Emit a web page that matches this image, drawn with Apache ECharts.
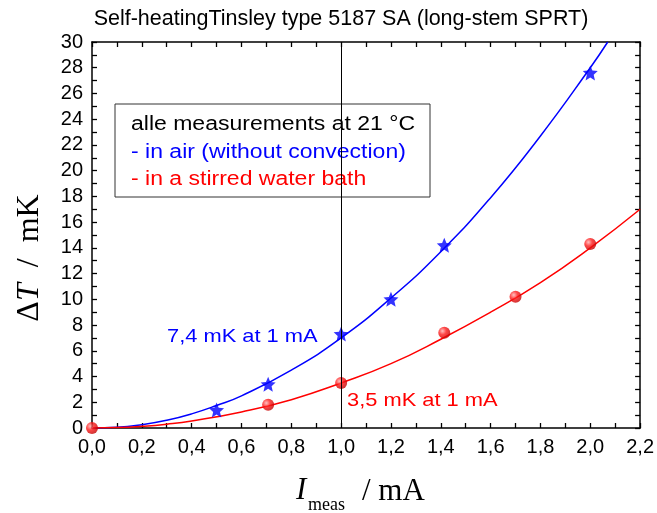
<!DOCTYPE html>
<html>
<head>
<meta charset="utf-8">
<script src="https://cdn.jsdelivr.net/npm/echarts@6/dist/echarts.min.js"></script>
<style>
  html, body { margin: 0; padding: 0; background: #fff; }
  #chart { width: 657px; height: 513px; }
</style>
</head>
<body>
<div id="chart"></div>
<script>
'use strict';

// measured points
const airX = [0.5, 0.707, 1.0, 1.2, 1.414, 2.0];
const airY = [1.4, 3.4, 7.3, 10.0, 14.2, 27.6];
const waterX = [0.0, 0.707, 1.0, 1.414, 1.7, 2.0];
const waterY = [0.0, 1.8, 3.5, 7.4, 10.2, 14.3];

// fit curves
const airFitX = [0, 0.1, 0.2, 0.3, 0.4, 0.5, 0.6, 0.8, 1.0, 1.2, 1.4, 1.6, 1.8, 2.0, 2.07];
const airFitY = [0, 0.05, 0.25, 0.6, 1.1, 1.75, 2.5, 4.5, 7.0, 10.1, 13.7, 17.9, 22.7, 28.0, 30.0];
const waterFitX = [0, 0.1, 0.2, 0.3, 0.4, 0.6, 0.8, 1.0, 1.2, 1.4, 1.6, 1.8, 2.0, 2.2];
const waterFitY = [0, 0.03, 0.13, 0.3, 0.55, 1.25, 2.2, 3.5, 5.0, 6.9, 9.0, 11.3, 14.0, 17.0];

const refCurrent = 1.0;

const blue = '#0000ff';
const red = '#ff0000';
const starPath = 'path://M12 1l3.2 7.4 8 .7-6.1 5.3 1.9 7.8L12 18l-7 4.2 1.9-7.8L.8 9.1l8-.7z';

const pairs = (xs, ys) => xs.map((x, i) => [x, ys[i]]);
// ticks every 0.1 / 1, labels only every 0.2 / 2
const xLabel = (v) => (Math.round(v * 10) % 2 === 0 ? v.toFixed(1).replace('.', ',') : '');
const yLabel = (v) => (Math.round(v) % 2 === 0 ? String(Math.round(v)) : '');

const chart = echarts.init(document.getElementById('chart'));

const sans = '"Liberation Sans", Arial, sans-serif';
const serif = '"Liberation Serif", "Times New Roman", serif';

// fresh objects per axis (echarts merges defaults into the option objects)
function frameAxis(extra) {
  return Object.assign({
    type: 'value',
    axisLine: { show: true, onZero: false, lineStyle: { color: '#000', width: 1.5 } },
    axisTick: { show: true, inside: true, length: 5, lineStyle: { color: '#000', width: 1.3 } },
    splitLine: { show: false }
  }, extra);
}

const option = {
  animation: false,
  backgroundColor: '#fff',
  grid: { left: 92, right: 16, top: 42, bottom: 85 },
  xAxis: [
    frameAxis({
      min: 0, max: 2.2, interval: 0.1,
      axisLabel: { formatter: xLabel, margin: 9, color: '#000', fontSize: 20, fontFamily: sans, showMinLabel: true, showMaxLabel: true }
    }),
    frameAxis({ min: 0, max: 2.2, interval: 0.1, position: 'top', axisLabel: { show: false } })
  ],
  yAxis: [
    frameAxis({
      min: 0, max: 30, interval: 1,
      axisLabel: { formatter: yLabel, margin: 9, color: '#000', fontSize: 20, fontFamily: sans, showMinLabel: true, showMaxLabel: true }
    }),
    frameAxis({ min: 0, max: 30, interval: 1, position: 'right', axisLabel: { show: false } })
  ],
  series: [
    {
      type: 'line', data: pairs(airFitX, airFitY), smooth: true, showSymbol: false,
      lineStyle: { color: blue, width: 1.5 }, z: 3,
      markLine: {
        silent: true, symbol: 'none', label: { show: false },
        lineStyle: { color: '#000', width: 1, type: 'solid' },
        data: [{ xAxis: refCurrent }]
      }
    },
    {
      // water bath series live on the mirror axes (same scale) so top/right get drawn
      type: 'line', xAxisIndex: 1, yAxisIndex: 1,
      data: pairs(waterFitX, waterFitY), smooth: true, showSymbol: false,
      lineStyle: { color: red, width: 1.5 }, z: 3
    },
    {
      type: 'scatter', data: pairs(airX, airY), symbol: starPath, symbolSize: 15,
      itemStyle: { color: blue }, z: 4
    },
    {
      type: 'scatter', xAxisIndex: 1, yAxisIndex: 1,
      data: pairs(waterX, waterY), symbol: 'circle', symbolSize: 12,
      itemStyle: {
        color: {
          type: 'radial', x: 0.35, y: 0.35, r: 0.7,
          colorStops: [{ offset: 0, color: '#ffb0b0' }, { offset: 0.45, color: '#ff1a1a' }, { offset: 1, color: '#c00000' }]
        }
      },
      z: 4
    }
  ],
  graphic: [
    // title
    {
      type: 'text', x: 341, y: 19, z: 100,
      style: { text: 'Self-heatingTinsley type 5187 SA (long-stem SPRT)', fill: '#000', font: '21.5px ' + sans, align: 'center', verticalAlign: 'middle' }
    },
    // legend box
    {
      type: 'group', x: 115, y: 104, z: 100,
      children: [
        { type: 'rect', shape: { x: 0, y: 0, width: 315, height: 93 }, style: { fill: '#fff', stroke: '#333', lineWidth: 1 } },
        { type: 'text', x: 16, y: 20, scaleX: 1.15, style: { text: 'alle measurements at 21 °C', fill: '#000', font: '20px ' + sans, verticalAlign: 'middle' } },
        { type: 'text', x: 16, y: 48, scaleX: 1.15, style: { text: '- in air (without convection)', fill: blue, font: '20px ' + sans, verticalAlign: 'middle' } },
        { type: 'text', x: 16, y: 75, scaleX: 1.15, style: { text: '- in a stirred water bath', fill: red, font: '20px ' + sans, verticalAlign: 'middle' } }
      ]
    },
    // annotations
    {
      type: 'text', x: 167, y: 337, scaleX: 1.15, z: 100,
      style: { text: '7,4 mK at 1 mA', fill: blue, font: '19px ' + sans, verticalAlign: 'middle' }
    },
    {
      type: 'text', x: 347, y: 401, scaleX: 1.15, z: 100,
      style: { text: '3,5 mK at 1 mA', fill: red, font: '19px ' + sans, verticalAlign: 'middle' }
    },
    // y axis title
    {
      type: 'text', x: 30, y: 258, rotation: Math.PI / 2, z: 100,
      style: {
        text: '{n|Δ}{i|T}{n|  /  mK}', align: 'center', verticalAlign: 'middle',
        rich: {
          n: { fontSize: 32, fontFamily: serif, fill: '#000' },
          i: { fontSize: 32, fontStyle: 'italic', fontFamily: serif, fill: '#000' }
        }
      }
    },
    // x axis title
    {
      type: 'text', x: 296, y: 475, z: 100,
      style: { text: 'I', fill: '#000', font: 'italic 31px ' + serif }
    },
    {
      type: 'text', x: 308, y: 496, z: 100,
      style: { text: 'meas', fill: '#000', font: '18px ' + serif }
    },
    {
      type: 'text', x: 362, y: 476, z: 100,
      style: { text: '/ mA', fill: '#000', font: '31px ' + serif }
    }
  ]
};

chart.setOption(option);
window.addEventListener('resize', chart.resize);
</script>
</body>
</html>
